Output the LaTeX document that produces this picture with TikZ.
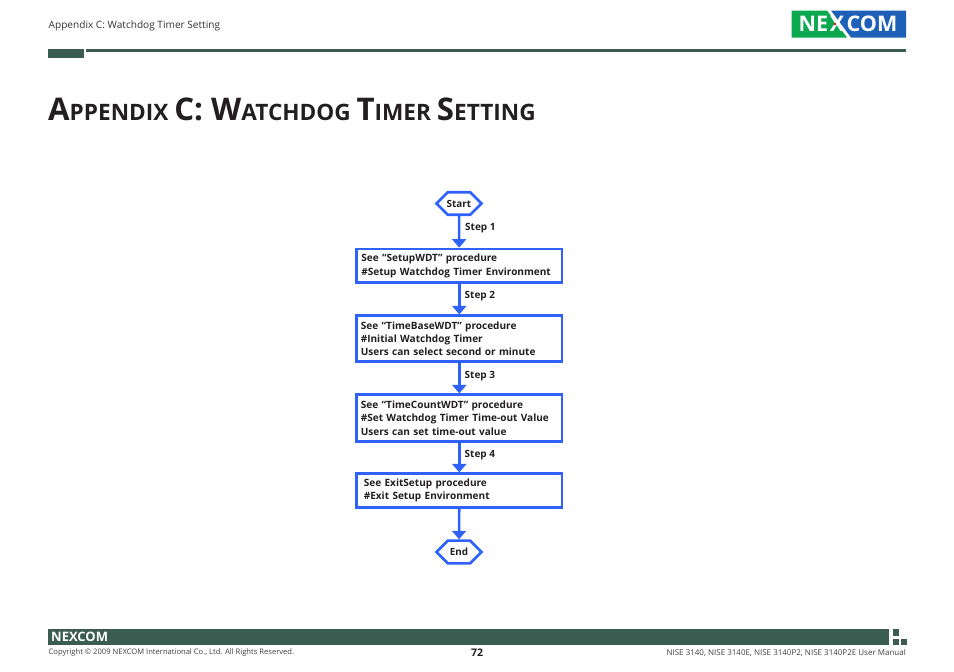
\documentclass[tikz,border=0pt]{standalone}
\usepackage{fontspec}
\setmainfont{Open Sans}
\usetikzlibrary{arrows.meta,shapes.misc}
\definecolor{bargreen}{HTML}{3B5C50}
\definecolor{flowblue}{HTML}{2F62F8}
\definecolor{logogreen}{HTML}{0BA84F}
\definecolor{logoblue}{HTML}{1E5FB8}
\definecolor{inktext}{HTML}{231F20}
\tikzset{
  stepbox/.style={draw=flowblue,line width=2.6pt,fill=white,minimum width=205.5pt,text width=198pt,inner xsep=3.2pt,inner ysep=0pt,align=left,font=\fontsize{10.05pt}{13.4pt}\selectfont\bfseries,text=inktext},
  termbox/.style={draw=flowblue,line width=2.6pt,fill=white,chamfered rectangle,chamfered rectangle xsep=9pt,chamfered rectangle ysep=7.6pt,minimum width=45pt,minimum height=21pt,inner sep=0pt,font=\fontsize{9.9pt}{10pt}\selectfont\bfseries,text=inktext,chamfered rectangle angle=45},
  flowarrow/.style={draw=flowblue,line width=2.6pt,-{Triangle[width=14pt,length=8.5pt]}},
  steplabel/.style={anchor=west,inner sep=0pt,font=\fontsize{10pt}{10pt}\selectfont\bfseries,text=inktext},
  smalltext/.style={inner sep=0pt,font=\fontsize{7.6pt}{8pt}\selectfont,text=black!75},
  barfill/.style={fill=bargreen,draw=none},
}
\begin{document}
\begin{tikzpicture}[x=1pt,y=-1pt]
\path[use as bounding box,fill=white] (0,0) rectangle (954,672);
% header
\node[anchor=west,inner sep=0pt,font=\fontsize{10.1pt}{11pt}\selectfont,text=black!80] (head) at (48.5,26) {Appendix C: Watchdog Timer Setting};
\fill[barfill] (48,49) rectangle (84,58);
\fill[barfill] (86,49) rectangle (906,52);
% logo
\fill[logogreen] (791.5,10.5) -- (827,10.5) -- (847,37.5) -- (791.5,37.5) -- cycle;
\fill[logoblue] (831,10.5) -- (906,10.5) -- (906,37.5) -- (851,37.5) -- cycle;
\node[anchor=center,inner sep=0pt,text=white,font=\fontsize{21.5pt}{22pt}\selectfont\bfseries] (logo) at (848,24) {NE\kern1.5pt X\kern2.5pt COM};
\fill[red!85!black] (835,24) circle (1.4);
% title
\node[anchor=base west,inner sep=0pt,text=inktext,font=\bfseries] (title) at (48,120) {\fontsize{31.2pt}{32pt}\selectfont A\fontsize{22.6pt}{24pt}\selectfont PPENDIX \fontsize{31.2pt}{32pt}\selectfont C: W\fontsize{22.6pt}{24pt}\selectfont ATCHDOG \fontsize{31.2pt}{32pt}\selectfont T\fontsize{22.6pt}{24pt}\selectfont IMER \fontsize{31.2pt}{32pt}\selectfont S\fontsize{22.6pt}{24pt}\selectfont ETTING};
% flow
\node[termbox] (start) at (459,203.5) {Start};
\node[stepbox,minimum height=33.5pt] (b1) at (459.3,265.7) {\hspace*{1pt}\raisebox{-.8pt}{See “SetupWDT” procedure}\\\hspace*{1pt}\raisebox{-.8pt}{\#Setup Watchdog Timer Environment}};
\node[stepbox,minimum height=46pt] (b2) at (459.3,338.7) {\hspace*{.5pt}See “TimeBaseWDT” procedure\\\hspace*{.5pt}\#Initial Watchdog Timer\\\hspace*{.5pt}Users can select second or minute};
\node[stepbox,minimum height=47pt] (b3) at (459.3,418.2) {\hspace*{.5pt}See “TimeCountWDT” procedure\\\hspace*{.5pt}\#Set Watchdog Timer Time-out Value\\\hspace*{.5pt}Users can set time-out value};
\node[stepbox,minimum height=33.5pt] (b4) at (459.3,490.5) {\hspace*{3.5pt}\raisebox{-.8pt}{See ExitSetup procedure}\\\hspace*{3.5pt}\raisebox{-.8pt}{\#Exit Setup Environment}};
\node[termbox] (end) at (459,552) {End};
\draw[flowarrow] (start) -- (b1);
\draw[flowarrow] (b1) -- (b2);
\draw[flowarrow] (b2) -- (b3);
\draw[flowarrow] (b3) -- (b4);
\draw[flowarrow] (b4) -- (end);
\node[steplabel] (s1) at (465,228) {Step 1};
\node[steplabel] (s2) at (464.5,296) {Step 2};
\node[steplabel] (s3) at (464.5,376) {Step 3};
\node[steplabel] (s4) at (464.5,455) {Step 4};
% footer
\fill[barfill] (48,629) rectangle (889,644.5);
\fill[barfill] (892.7,629) rectangle (899.3,636);
\fill[barfill] (892.7,638.7) rectangle (899.3,644.7);
\fill[barfill] (900.7,638.7) rectangle (907.3,644.7);
\node[anchor=west,inner sep=0pt,text=white,font=\fontsize{13pt}{14pt}\selectfont\bfseries] (flogo) at (51,637) {NEXCOM};
\node[smalltext,anchor=west] (copy) at (48.5,652.5) {Copyright © 2009 NEXCOM International Co., Ltd. All Rights Reserved.};
\node[inner sep=0pt,text=inktext,font=\fontsize{10.5pt}{12pt}\selectfont\bfseries] (page) at (477,652.5) {72};
\node[smalltext,anchor=east,font=\fontsize{8pt}{8pt}\selectfont] (model) at (906,652.5) {NISE 3140, NISE 3140E, NISE 3140P2, NISE 3140P2E User Manual};
\end{tikzpicture}
\end{document}
